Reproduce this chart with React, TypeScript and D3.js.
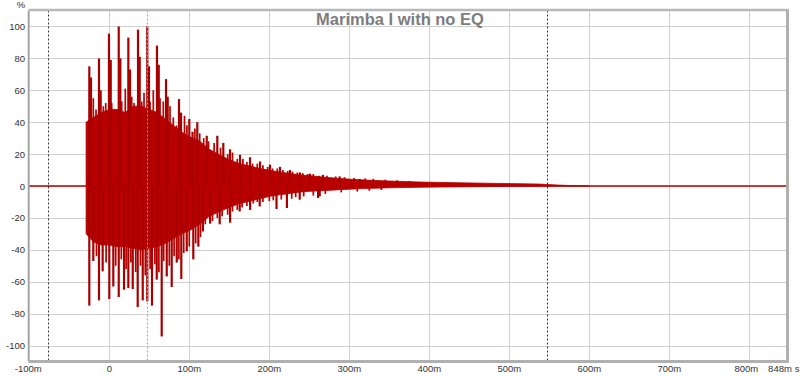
import React from "react";
import * as d3 from "d3";

const titleText = "Marimba I with no EQ";
const yTicks = [-100, -80, -60, -40, -20, 0, 20, 40, 60, 80, 100];
const xTicks = [-100, 0, 100, 200, 300, 400, 500, 600, 700, 800];
const xTickLabels = ["-100m", "0", "100m", "200m", "300m", "400m", "500m", "600m", "700m", "800m"];
const xEndLabel = "848m";
const xUnit = "s";
const yUnit = "%";
const markerBlack = [-77, 547];
const markerRed = [47];

// body envelope of the decaying waveform (ms, %)
const envTimes = [-29, -20, -10, 0, 10, 20, 30, 40, 50, 60, 70, 80, 90, 100, 113, 125, 138, 150, 163, 176, 188, 201, 213, 226, 238, 251, 267, 288, 313, 351, 388, 438, 488, 538, 560, 580, 600];
const envUpper = [40, 43, 46, 48, 48, 46, 50, 50, 48, 46, 42, 38, 34, 31, 28, 23, 19.5, 16.5, 14, 12.5, 11, 9.8, 8.8, 7.8, 7, 6.4, 5.6, 4.7, 3.9, 3.1, 2.5, 2.0, 1.6, 1.2, 0.6, 0.2, 0];
const envLower = [-30, -35, -37, -37, -38, -38, -39, -40, -39, -38, -36, -33, -30, -28, -24, -19, -16, -13.5, -11, -9.5, -8, -6.5, -5.5, -4.7, -3.8, -3.3, -2.9, -2.3, -1.7, -1.1, -0.8, -0.5, -0.3, -0.1, 0, 0, 0];

// main positive peaks (ms, %)
const posTimes = [-25, -22.9, -12.9, -10.8, -0.4, 1.8, 11.8, 13.8, 23.8, 25.9, 35.9, 38, 47.5, 49.6, 59.6, 61.8, 70.9, 73, 87.1, 89.6, 100, 104, 110, 121.8, 135, 142.5, 150.9, 163.4, 175.9, 188.4, 200.9, 213.4, 225.9, 238.4, 250.9, 267, 288, 313];
const posValues = [75, 68, 80, 60, 95.5, 79, 100, 80, 93, 73, 98, 81, 100, 75, 88, 76, 67, 56, 54.5, 46, 42, 34, 40, 31.5, 31.5, 27, 23, 19.6, 18, 15.4, 13.4, 12, 10, 8.5, 7.7, 7, 6, 4.4];

// minor positive peaks (ms, %)
const posMinorTimes = [-20, -16.6, -7.5, -4.5, 3, 6.3, 15.5, 20, 28, 30.9, 40.5, 43.4, 50.9, 55, 63.4, 67.5, 75.9, 80, 84, 94, 97, 107, 113, 118, 124, 131, 139, 148, 154, 160, 167, 172, 179, 185, 192, 198, 204, 210, 217, 223, 229, 235, 242, 248, 255, 262, 272, 283, 294, 306, 320, 330, 345, 360, 375];
const posMinorValues = [55, 48, 50, 52, 52, 48, 53, 61, 56, 52, 53, 58.5, 53, 60, 55, 53, 50, 43, 38, 44, 38, 36, 33, 30, 28, 27, 24, 20, 21, 17, 17, 15, 14, 14, 13, 12, 11, 11, 10, 9.5, 9, 8.5, 8, 7.5, 7.5, 6.5, 6.5, 6, 5.5, 5, 4.8, 4.5, 4, 3.6, 3.2];

// main negative peaks (ms, %)
const negTimes = [-25, -20, -12.9, -8.3, 0, 5, 11.8, 18.4, 23.8, 29.3, 35.5, 41.8, 47.5, 53.4, 59.3, 65.5, 71.8, 78, 84.3, 90, 96.8, 105, 111.3, 117, 126, 138, 151, 163, 176, 188, 209, 222, 238, 261, 263];
const negValues = [-75, -47, -71.7, -53.5, -70.8, -63, -69.6, -65, -64, -64.6, -75.9, -71.7, -72.3, -75, -58.7, -94.3, -56.7, -63.3, -48, -58.3, -41, -46, -38, -28.5, -23.6, -24, -23, -16, -15, -12.8, -14.4, -13.8, -8.6, -7.5, -6.5];

// minor negative peaks (ms, %)
const negMinorTimes = [-16, -4, 8, 15, 21, 27, 33, 39, 45, 51, 57, 62, 68, 75, 81, 87, 93, 100, 108, 114, 120, 129, 135, 141, 148, 154, 160, 166, 172, 180, 185, 192, 200, 205, 215, 228, 233, 243, 255, 270, 290, 310, 325, 340];
const negMinorValues = [-44, -48, -50, -46, -52, -48, -54, -50, -56, -52, -49, -54, -47, -50, -44, -46, -42, -38, -36, -32, -24, -22, -20, -19, -18, -16, -15, -13.5, -12.5, -11, -10, -10, -9.5, -9, -8.5, -8, -7, -6.5, -6, -5, -4, -3.5, -3, -2.5];

const W = 800;
const H = 376;
const L = 28.5, R = 787.5, T = 10.5, B = 361.5;

export default function App() {
  const x = d3.scaleLinear().domain([-100, 848]).range([29.3, 787.7]);
  const y = d3.scaleLinear().domain([-110, 110]).range([B, T]);
  const red = "#b80000";
  const dark = "#a80000";
  const font = "'Liberation Sans', Arial, sans-serif";

  const env = envTimes.map((t, i) => ({ t, u: envUpper[i], l: envLower[i] }));
  const area = d3.area<any>().x((d) => x(d.t)).y0((d) => y(d.l)).y1((d) => y(d.u)).curve(d3.curveLinear)(env) || "";

  const spike = (key: string, t: number, v: number, w: number, c: string) => (
    <line key={key} x1={x(t)} x2={x(t)} y1={y(0)} y2={y(v)} stroke={c} strokeWidth={w} />
  );

  return (
    <svg width={W} height={H} style={{ position: "absolute", left: 0, top: 0, background: "#fff" }}>
      <rect x={0} y={0} width={W} height={H} fill="#fff" />
      {yTicks.map((v) => (
        <line key={"gy" + v} x1={L} x2={R} y1={Math.round(y(v)) + 0.5} y2={Math.round(y(v)) + 0.5} stroke="#cfcfcf" strokeWidth={1} />
      ))}
      {xTicks.map((v) => (
        <line key={"gx" + v} x1={Math.round(x(v)) + 0.5} x2={Math.round(x(v)) + 0.5} y1={T} y2={B} stroke="#cfcfcf" strokeWidth={1} />
      ))}
      <text x={400} y={25} textAnchor="middle" fontFamily={font} fontWeight="bold" fontSize={16.5} fill="#7d7d7d">{titleText}</text>
      {markerBlack.map((v) => (
        <line key={"mb" + v} x1={Math.round(x(v)) + 0.5} x2={Math.round(x(v)) + 0.5} y1={T} y2={B} stroke="#333" strokeWidth={1} strokeDasharray="2,2" />
      ))}
      <line x1={x(-100)} x2={x(848)} y1={y(0)} y2={y(0)} stroke={red} strokeWidth={1.6} />
      <path d={area} fill={red} stroke={red} strokeWidth={0.8} />
      {posMinorTimes.map((t, i) => spike("pm" + i, t, posMinorValues[i], 1.7, red))}
      {negMinorTimes.map((t, i) => spike("nm" + i, t, negMinorValues[i], 1.7, red))}
      {posTimes.map((t, i) => spike("p" + i, t, posValues[i], 2.2, dark))}
      {negTimes.map((t, i) => spike("n" + i, t, negValues[i], 2.2, dark))}
      {markerRed.map((v) => (
        <line key={"mr" + v} x1={Math.round(x(v)) + 0.5} x2={Math.round(x(v)) + 0.5} y1={T} y2={B} stroke="#f08080" strokeWidth={1} strokeDasharray="2,2" />
      ))}
      <line x1={L} x2={L} y1={T} y2={B} stroke="#a0a0a0" strokeWidth={1.5} />
      <line x1={L} x2={R + 1.5} y1={T - 0.5} y2={T - 0.5} stroke="#b8b8b8" strokeWidth={2.5} />
      <line x1={L} x2={R + 1.5} y1={B} y2={B} stroke="#b0b0b0" strokeWidth={3} />
      <line x1={R} x2={R} y1={T} y2={B + 1.5} stroke="#b0b0b0" strokeWidth={3} />
      {yTicks.map((v) => (
        <text key={"ly" + v} x={25} y={y(v) + 3.5} textAnchor="end" fontFamily={font} fontSize={9.5} fill="#333">{v}</text>
      ))}
      <text x={21} y={8} textAnchor="middle" fontFamily={font} fontSize={9.5} fill="#333">{yUnit}</text>
      {xTicks.map((v, i) => (
        <text key={"lx" + v} x={v === 800 ? x(v) - 3 : v === -100 ? x(v) - 1 : x(v)} y={372} textAnchor="middle" fontFamily={font} fontSize={9.5} fill="#333">{xTickLabels[i]}</text>
      ))}
      <text x={780} y={372} textAnchor="middle" fontFamily={font} fontSize={9.5} fill="#333">{xEndLabel}</text>
      <text x={797} y={372} textAnchor="middle" fontFamily={font} fontSize={9.5} fill="#333">{xUnit}</text>
    </svg>
  );
}
